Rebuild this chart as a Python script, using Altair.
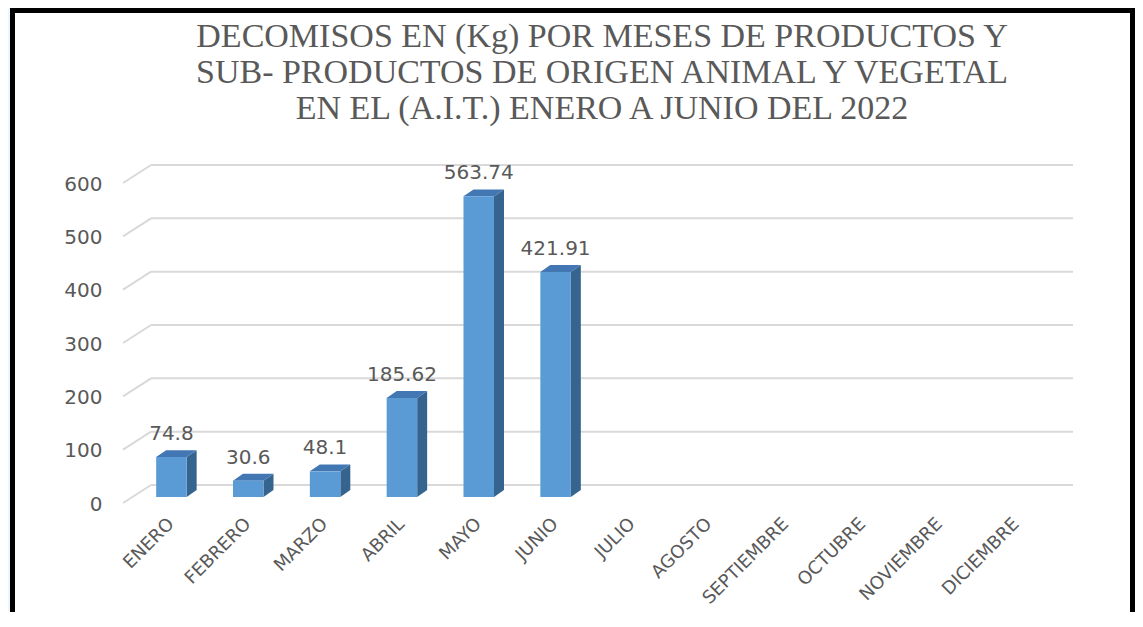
import altair as alt
import pandas as pd

months = ["ENERO", "FEBRERO", "MARZO", "ABRIL", "MAYO", "JUNIO", "JULIO",
          "AGOSTO", "SEPTIEMBRE", "OCTUBRE", "NOVIEMBRE", "DICIEMBRE"]
values = [74.8, 30.6, 48.1, 185.62, 563.74, 421.91,
          None, None, None, None, None, None]
y_ticks = [0, 100, 200, 300, 400, 500, 600]
title_lines = ["DECOMISOS EN (Kg) POR MESES DE PRODUCTOS Y",
               "SUB- PRODUCTOS DE ORIGEN ANIMAL Y VEGETAL",
               "EN EL (A.I.T.)  ENERO A JUNIO DEL 2022"]

W, H = 922, 320
HALF = 0.1985      # half bar width, in category units
DX = 0.13          # 3D depth (x), category units
DY = 13.0          # 3D depth (y), value units

df = pd.DataFrame({"mes": months, "valor": values})
df_grid = pd.DataFrame({"g": y_ticks})

side_rows, top_rows = [], []
for i, (m, v) in enumerate(zip(months, values)):
    if v is None:
        continue
    x0 = i + 0.5 - HALF
    x1 = i + 0.5 + HALF
    side_rows += [dict(mes=m, xq=x1, lo=0, hi=v),
                  dict(mes=m, xq=x1 + DX, lo=DY, hi=v + DY)]
    top_rows += [dict(mes=m, xq=x0, lo=v, hi=v),
                 dict(mes=m, xq=x0 + DX, lo=v, hi=v + DY),
                 dict(mes=m, xq=x1, lo=v, hi=v + DY),
                 dict(mes=m, xq=x1 + DX, lo=v + DY, hi=v + DY)]
df_side = pd.DataFrame(side_rows)
df_top = pd.DataFrame(top_rows)

yscale = alt.Scale(domain=[0, 600], nice=False, zero=True)
yaxis = alt.Axis(title=None, values=y_ticks, labelFont="DejaVu Sans",
                 labelFontSize=20, labelColor="#595959", domain=False,
                 ticks=False, tickSize=0, grid=False, labelPadding=31,
                 labelOffset=7, zindex=1)
xq = alt.X("xq:Q", scale=alt.Scale(domain=[0, 12], nice=False, zero=False), axis=None)
bscale = alt.Scale(domain=months, paddingInner=0.603, paddingOuter=0.3015)
xband = alt.X("mes:N", sort=months, scale=bscale,
              axis=alt.Axis(title=None, labelAngle=-45, labelAlign="right",
                            labelBaseline="middle", labelFont="DejaVu Sans",
                            labelFontSize=18, labelColor="#595959", domain=False,
                            ticks=False, tickSize=0, grid=False, labelPadding=24,
                            labelOverlap=False, labelBound=False, zindex=1))
xband_noaxis = alt.X("mes:N", sort=months, scale=bscale, axis=None)

frame = alt.Chart(pd.DataFrame({"f": [0]})).mark_rect(
    fill="white", stroke="black", strokeWidth=5
).encode(x=alt.value(-120.5), x2=alt.value(999.5), y=alt.value(-166.5), y2=alt.value(470))

grid_back = alt.Chart(df_grid).mark_rule(color="#d9d9d9", strokeWidth=2, yOffset=-12).encode(
    y=alt.Y("g:Q", scale=yscale, axis=yaxis), x=alt.value(18), x2=alt.value(940))
grid_slant = alt.Chart(df_grid).mark_rule(color="#d9d9d9", strokeWidth=2, yOffset=6, y2Offset=-12).encode(
    y=alt.Y("g:Q", scale=yscale, axis=yaxis), y2="g:Q", x=alt.value(-10), x2=alt.value(18))

side = alt.Chart(df_side).mark_area(color="#35648f").encode(
    x=xq, y=alt.Y("lo:Q", scale=yscale, axis=yaxis), y2="hi:Q", detail="mes:N")
top = alt.Chart(df_top).mark_area(color="#4377b3").encode(
    x=xq, y=alt.Y("lo:Q", scale=yscale, axis=yaxis), y2="hi:Q", detail="mes:N")

front = alt.Chart(df).mark_bar(color="#5b9bd5").encode(
    x=xband, y=alt.Y("valor:Q", scale=yscale, axis=yaxis))

text = alt.Chart(df).mark_text(font="DejaVu Sans", fontSize=20, color="#595959",
                               baseline="middle", dy=-23).encode(
    x=xband_noaxis, y=alt.Y("valor:Q", scale=yscale, axis=yaxis),
    text=alt.Text("valor:Q"))

chart = alt.layer(frame, grid_back, grid_slant, side, top, front, text).resolve_scale(
    x="independent"
).properties(
    width=W, height=H,
    autosize=alt.AutoSizeParams(type="none"),
    padding={"left": 125, "top": 169, "right": 80, "bottom": 115},
    background="#eef6fd",
    title=alt.TitleParams(text=title_lines, font="Liberation Serif", fontSize=34,
                          fontWeight="normal", color="#595959", anchor="middle",
                          lineHeight=36, offset=-118, dx=8),
).configure_view(stroke=None)

chart.save("out.html", embed_options={"renderer": "svg", "actions": False})
